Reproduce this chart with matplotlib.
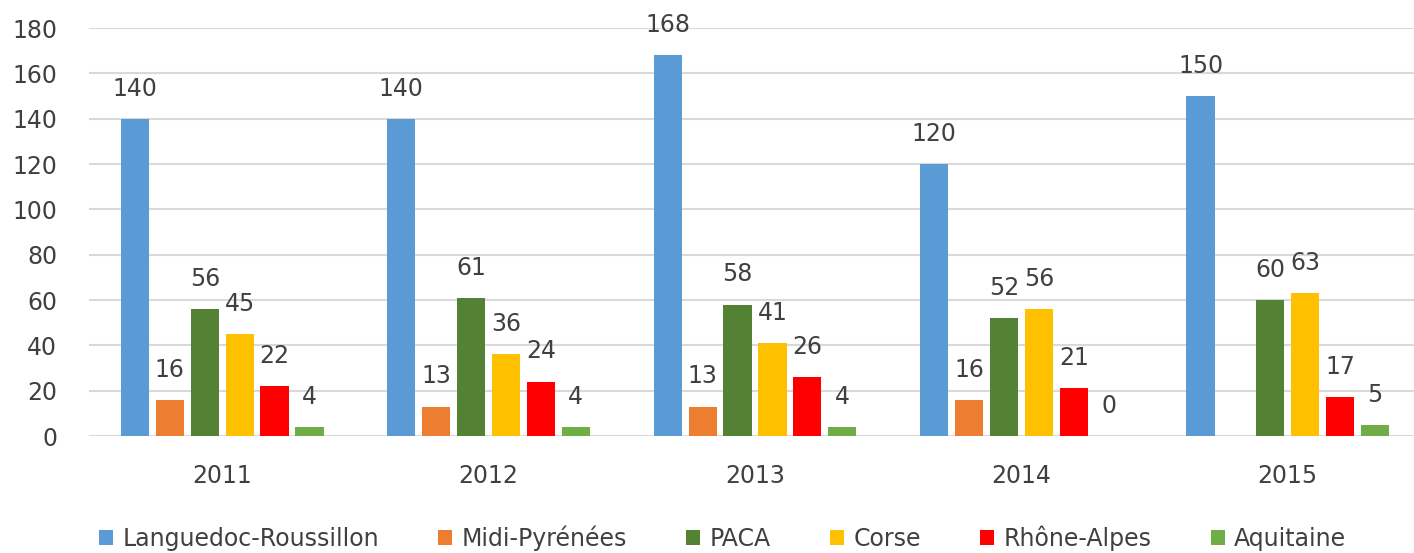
import matplotlib
matplotlib.use('Agg')
import matplotlib.pyplot as plt
import numpy as np

# --- data ---
years = ['2011', '2012', '2013', '2014', '2015']
regions = ['Languedoc-Roussillon', 'Midi-Pyrénées', 'PACA', 'Corse',
           'Rhône-Alpes', 'Aquitaine']
languedoc = [140, 140, 168, 120, 150]
midi = [16, 13, 13, 16, np.nan]      # no value in 2015
paca = [56, 61, 58, 52, 60]
corse = [45, 36, 41, 56, 63]
rhone = [22, 24, 26, 21, 17]
aquitaine = [4, 4, 4, 0, 5]

series = [languedoc, midi, paca, corse, rhone, aquitaine]
colors = ['#5B9BD5', '#ED7D31', '#548235', '#FFC000', '#FF0000', '#70AD47']

plt.rcParams['font.family'] = ['DejaVu Sans']
TXT = '#404040'
FS = 17

fig = plt.figure(figsize=(14.14, 5.53), dpi=100)
ax = fig.add_axes([89 / 1414, 117 / 553, 1332 / 1414, 408 / 553])

x = np.arange(len(years))
step = 0.131
width = 0.106
for i, (vals, col, name) in enumerate(zip(series, colors, regions)):
    pos = x + (i - 2.5) * step
    v = np.array(vals, dtype=float)
    ax.bar(pos, v, width=width, color=col, label=name, zorder=3)
    for px, val in zip(pos, v):
        if np.isnan(val):
            continue
        ax.text(px, val + 8, f'{int(val)}', ha='center', va='bottom',
                fontsize=FS, color=TXT)

ax.set_ylim(0, 180)
ax.set_yticks(range(0, 181, 20))
ax.set_xlim(-0.5, len(years) - 0.5)
ax.set_xticks(x)
ax.set_xticklabels(years)
ax.yaxis.grid(True, color='#D9D9D9', linewidth=1.5, zorder=0)
ax.set_axisbelow(True)
for s in ax.spines.values():
    s.set_visible(False)
ax.tick_params(axis='both', length=0, labelsize=FS, labelcolor=TXT)
ax.tick_params(axis='x', pad=20)
ax.tick_params(axis='y', pad=23)

handles, labels = ax.get_legend_handles_labels()
fig.legend(handles, labels, loc='lower center', bbox_to_anchor=(0.511, -0.035),
           ncol=6, frameon=False, fontsize=FS, handlelength=0.6,
           handleheight=0.6, handletextpad=0.4, columnspacing=2.5,
           labelcolor=TXT)

fig.savefig('out.png', dpi=100, facecolor='white')
